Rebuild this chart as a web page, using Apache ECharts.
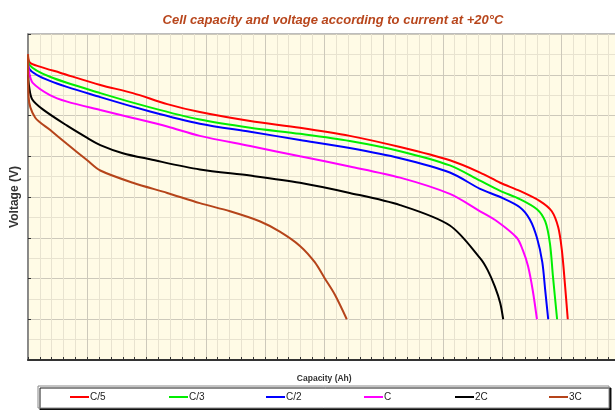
<!DOCTYPE html>
<html>
<head>
<meta charset="utf-8">
<script src="https://cdn.jsdelivr.net/npm/echarts@6/dist/echarts.min.js"></script>
<style>
html,body{margin:0;padding:0;background:#fff;}
#c{width:615px;height:410px;}
</style>
</head>
<body>
<div id="c"></div>
<script>
const titleText = 'Cell capacity and voltage according to current at +20°C';
const xName = 'Capacity (Ah)';
const yName = 'Voltage (V)';
const seriesNames = ['C/5', 'C/3', 'C/2', 'C', '2C', '3C'];
const seriesColors = ['#ff0000', '#00ee00', '#0000ff', '#ff00ff', '#000000', '#b5441a'];

const dataC5 = [[0,4.10],[0.03,4.06],[0.2,4.04],[0.54,4.01],[1.22,3.95],[1.77,3.91],[2.35,3.856],[2.90,3.817],[3.75,3.773],[4.59,3.74],[5.43,3.70],[6.28,3.645],[7.12,3.58],[7.63,3.52],[7.97,3.47],[8.30,3.43],[8.64,3.38],[8.84,3.33],[8.95,3.25],[9.01,3.14],[9.06,2.98],[9.11,2.80]];
const dataC3 = [[0,4.09],[0.02,4.05],[0.37,3.99],[1.22,3.91],[2.06,3.84],[2.90,3.78],[3.75,3.74],[4.59,3.71],[5.43,3.675],[6.28,3.625],[7.12,3.555],[7.63,3.48],[7.97,3.43],[8.30,3.39],[8.59,3.34],[8.73,3.28],[8.81,3.17],[8.86,3.01],[8.93,2.80]];
const dataC2 = [[0,4.08],[0.02,4.03],[0.37,3.97],[1.22,3.89],[2.06,3.82],[2.90,3.76],[3.75,3.72],[4.59,3.68],[5.43,3.64],[6.28,3.59],[7.12,3.52],[7.63,3.44],[7.97,3.40],[8.30,3.35],[8.47,3.29],[8.59,3.20],[8.68,3.08],[8.73,2.94],[8.78,2.80]];
const dataC1 = [[0,4.06],[0.02,4.01],[0.08,3.96],[0.37,3.90],[0.66,3.868],[1.22,3.827],[1.77,3.788],[2.35,3.746],[2.90,3.70],[3.75,3.65],[4.59,3.60],[5.43,3.55],[6.28,3.495],[7.12,3.415],[7.63,3.33],[7.92,3.28],[8.25,3.20],[8.35,3.14],[8.44,3.06],[8.52,2.94],[8.59,2.80]];
const data2C = [[0,4.00],[0.02,3.94],[0.07,3.88],[0.25,3.83],[0.66,3.75],[1.0,3.69],[1.22,3.655],[1.60,3.615],[2.06,3.585],[2.90,3.535],[3.75,3.505],[4.59,3.47],[5.43,3.42],[6.28,3.36],[7.12,3.26],[7.63,3.10],[7.76,3.04],[7.88,2.96],[7.97,2.88],[8.02,2.80]];
const data3C = [[0,4.10],[0.01,3.89],[0.12,3.79],[0.37,3.73],[0.66,3.66],[1.0,3.58],[1.22,3.53],[1.77,3.47],[2.35,3.42],[2.90,3.37],[3.41,3.33],[3.92,3.28],[4.25,3.23],[4.59,3.16],[4.84,3.08],[5.01,3.00],[5.18,2.92],[5.38,2.80]];
const allData = [dataC5, dataC3, dataC2, dataC1, data2C, data3C];

const xMin = 0, xMax = 10, xStep = 1;
const yMin = 2.6, yMax = 4.2, yStep = 0.2;
const legendLefts = [70, 169, 266, 364, 455, 549];

const chart = echarts.init(document.getElementById('c'), null, {renderer: 'canvas'});
const option = {
  animation: false,
  backgroundColor: '#ffffff',
  title: {
    text: titleText,
    left: 328, top: 9, textAlign: 'center',
    textStyle: {fontFamily: 'Liberation Sans, Arial', fontStyle: 'italic', fontWeight: 'bold', fontSize: 13, color: '#b8461c'}
  },
  grid: {
    left: 28, width: 592.5, top: 34, height: 326,
    containLabel: false, outerBoundsMode: 'none',
    show: true, backgroundColor: '#fffbe6', borderColor: '#a8a8a8', borderWidth: 1.5
  },
  xAxis: {
    type: 'value', min: xMin, max: xMax, interval: xStep,
    name: xName, nameLocation: 'middle', nameGap: 14,
    nameTextStyle: {fontFamily: 'Liberation Sans, Arial', fontWeight: 'bold', fontSize: 8.5, color: '#333'},
    axisLine: {show: true, lineStyle: {color: '#333', width: 2}},
    axisTick: {show: true, inside: true, length: 3, lineStyle: {color: '#333'}},
    minorTick: {show: true, splitNumber: 5, length: 3, lineStyle: {color: '#333'}},
    axisLabel: {show: false},
    splitLine: {show: true, lineStyle: {color: '#cdc9bb', width: 1}},
    minorSplitLine: {show: true, lineStyle: {color: '#e8e3d0', width: 1}}
  },
  yAxis: {
    type: 'value', min: yMin, max: yMax, interval: yStep,
    name: yName, nameLocation: 'middle', nameGap: 7, nameRotate: 90,
    nameTextStyle: {fontFamily: 'Liberation Sans, Arial', fontWeight: 'bold', fontSize: 12, color: '#333'},
    axisLine: {show: true, lineStyle: {color: '#777', width: 1.5}},
    axisTick: {show: true, inside: true, length: 3, lineStyle: {color: '#333'}},
    axisLabel: {show: false},
    splitLine: {show: true, lineStyle: {color: '#cdc9bb', width: 1}},
    minorTick: {show: false, splitNumber: 2},
    minorSplitLine: {show: true, lineStyle: {color: '#e8e3d0', width: 1}}
  },
  legend: seriesNames.map((n, i) => ({
    data: [n], left: legendLefts[i], top: 392, orient: 'horizontal',
    itemWidth: 19, itemHeight: 10, itemGap: 0,
    icon: 'path://M0,4 L19,4 L19,6 L0,6 Z',
    textStyle: {fontFamily: 'Liberation Sans, Arial', fontSize: 10, color: '#222', padding: [0,0,0,-4]},
    padding: 0
  })),
  graphic: [{
    type: 'rect', z: -1, zlevel: 0,
    shape: {x: 38, y: 386, width: 571, height: 22},
    style: {fill: '#ffffff', stroke: '#888', lineWidth: 1, shadowColor: 'rgba(0,0,0,0.9)', shadowOffsetX: 2, shadowOffsetY: 2, shadowBlur: 0}
  }],
  series: seriesNames.map((n, i) => ({
    name: n, type: 'line', data: allData[i], showSymbol: false, smooth: 0.3,
    lineStyle: {color: seriesColors[i], width: 2}, itemStyle: {color: seriesColors[i]},
    clip: true
  }))
};
chart.setOption(option);
</script>
</body>
</html>
